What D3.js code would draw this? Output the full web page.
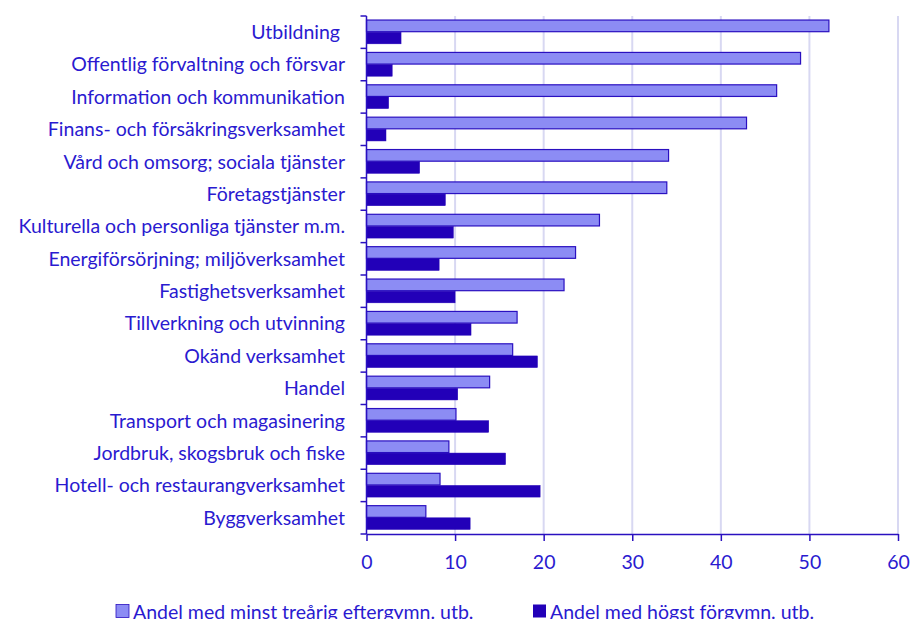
<!DOCTYPE html>
<html><head><meta charset="utf-8">
<script src="https://cdn.jsdelivr.net/npm/d3@7"></script>
<style>body{margin:0;background:#fff;} text{font-family:Lato,"Open Sans",sans-serif;}</style>
</head><body>
<svg id="c" width="910" height="619"></svg>
<script>
const categories = ["Utbildning ","Offentlig förvaltning och försvar","Information och kommunikation","Finans- och försäkringsverksamhet","Vård och omsorg; sociala tjänster","Företagstjänster","Kulturella och personliga tjänster m.m.","Energiförsörjning; miljöverksamhet","Fastighetsverksamhet","Tillverkning och utvinning","Okänd verksamhet","Handel","Transport och magasinering","Jordbruk, skogsbruk och fiske","Hotell- och restaurangverksamhet","Byggverksamhet"];
const seriesNames = ["Andel med minst treårig eftergymn. utb.","Andel med högst förgymn. utb."];
const highEdu = [52.2,49.0,46.3,42.9,34.1,33.9,26.3,23.6,22.3,17.0,16.5,13.9,10.1,9.3,8.3,6.7];
const lowEdu = [3.9,2.9,2.5,2.2,6.0,8.9,9.8,8.2,10.0,11.8,19.3,10.3,13.8,15.7,19.6,11.7];
const xTicks = [0,10,20,30,40,50,60];

const svg = d3.select("#c");
const L = 366.5, R = 898, T = 16, B = 534;
const x = d3.scaleLinear().domain([0,60]).range([L,R]);
const y = d3.scaleBand().domain(categories).range([T,B]).paddingInner(0.25).paddingOuter(0.125);
const y0 = d3.scaleBand().domain(categories).range([T,B]);
const sub = d3.scaleBand().domain([0,1]).range([0,y.bandwidth()]);
const axisCol = "#2a10c0", textCol = "#2a1ad0";
const fills = ["#8c8cf4","#2200b8"];

// gridlines
svg.append("g").selectAll("line").data(xTicks.slice(1)).join("line")
  .attr("x1",d=>x(d)).attr("x2",d=>x(d)).attr("y1",T).attr("y2",B)
  .attr("stroke","#d8d8f2").attr("stroke-width",2);

const data = [highEdu, lowEdu];
data.forEach((vals,si)=>{
  svg.append("g").selectAll("rect").data(categories).join("rect")
    .attr("x",x(0))
    .attr("y",(c)=>y(c)+sub(si))
    .attr("width",(c,i)=>x(vals[i])-x(0))
    .attr("height",sub.bandwidth()-0.5)
    .attr("fill",fills[si])
    .attr("stroke",si===0?axisCol:"#2200b8").attr("stroke-width",si===0?1.2:0.5);
});

// y axis
const yAxis = svg.append("g").attr("transform",`translate(${x(0)},0)`);
yAxis.append("line").attr("x1",0).attr("x2",0).attr("y1",T).attr("y2",B).attr("stroke",axisCol).attr("stroke-width",1.5);
const bounds = categories.map(c=>y0(c)).concat([B]);
yAxis.selectAll("line.t").data(bounds).join("line").attr("class","t")
  .attr("x1",-6).attr("x2",0).attr("y1",d=>d).attr("y2",d=>d).attr("stroke",axisCol).attr("stroke-width",1.5);
svg.append("g").selectAll("text").data(categories).join("text")
  .attr("x",345).attr("y",c=>y0(c)+y0.bandwidth()/2).attr("dy","0.35em")
  .attr("text-anchor","end").attr("fill",textCol).attr("font-size",19.5).style("white-space","pre")
  .text(c=>c);

// x axis
const xa = svg.append("g").attr("transform",`translate(0,${B})`)
  .call(d3.axisBottom(x).tickValues(xTicks).tickSize(7).tickPadding(14).tickSizeOuter(0));
xa.select(".domain").attr("stroke",axisCol).attr("stroke-width",1.5);
xa.selectAll(".tick line").attr("stroke",axisCol).attr("stroke-width",1.5);
xa.selectAll(".tick text").attr("fill",textCol).attr("font-size",19.5).attr("font-family","Lato,sans-serif");

// legend
const leg = [{x:116,tx:133},{x:533,tx:550}];
leg.forEach((l,i)=>{
  svg.append("rect").attr("x",l.x).attr("y",604.5).attr("width",13).attr("height",13)
    .attr("fill",fills[i]).attr("stroke",i===0?axisCol:"none").attr("stroke-width",0.8);
  svg.append("text").attr("x",l.tx).attr("y",619).attr("fill",textCol).attr("font-size",19.5).text(seriesNames[i]);
});
</script>
</body></html>
